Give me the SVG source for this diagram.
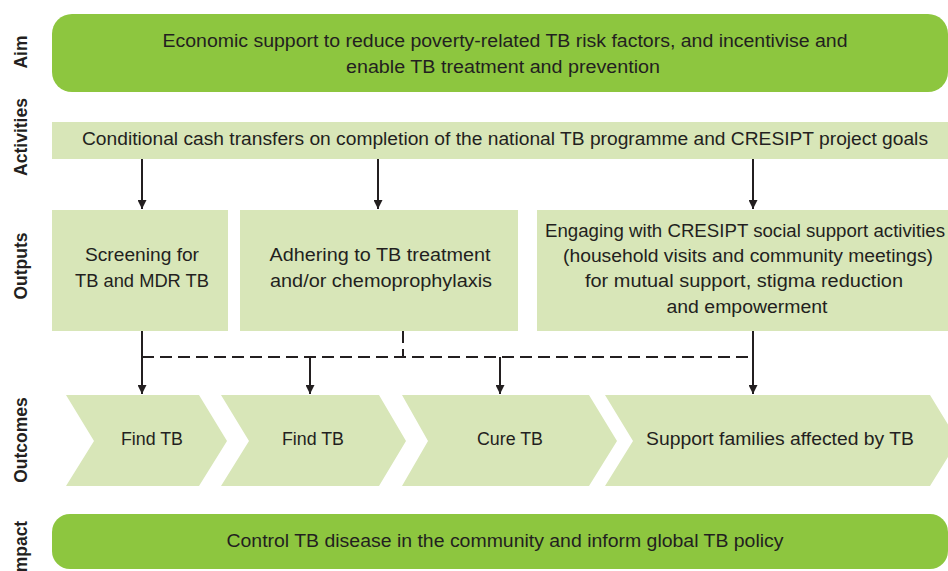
<svg xmlns="http://www.w3.org/2000/svg" width="948" height="571" viewBox="0 0 948 571">
  <style>
    .dark { fill: #8dc63f; }
    .light { fill: #d8e6b8; }
    .t { font-family: "Liberation Sans", Arial, sans-serif; font-size: 17.5px; fill: #231f20; text-anchor: middle; }
    .lbl { font-family: "Liberation Sans", Arial, sans-serif; font-size: 17.5px; font-weight: bold; fill: #231f20; text-anchor: middle; }
    .ln { stroke: #231f20; stroke-width: 2; fill: none; }
    .dash { stroke: #231f20; stroke-width: 2; fill: none; stroke-dasharray: 12 6; }
  </style>
  <defs>
    <marker id="arr" viewBox="0 0 10 10" refX="10" refY="5" markerWidth="4.5" markerHeight="4.5" orient="auto" markerUnits="strokeWidth">
      <path d="M0,0 L10,5 L0,10 Z" fill="#231f20"/>
    </marker>
  </defs>

  <g id="row-labels">
    <text class="lbl" transform="translate(27,52) rotate(-90)">Aim</text>
    <text class="lbl" transform="translate(27,137) rotate(-90)">Activities</text>
    <text class="lbl" transform="translate(27,266) rotate(-90)">Outputs</text>
    <text class="lbl" transform="translate(27,440) rotate(-90)">Outcomes</text>
    <text class="lbl" transform="translate(27,549) rotate(-90)">Impact</text>
  </g>

  <g id="aim">
    <rect class="dark" x="52" y="14" width="896" height="78" rx="20" ry="20"/>
    <text class="t" x="505" y="47" textLength="685" lengthAdjust="spacingAndGlyphs">Economic support to reduce poverty-related TB risk factors, and incentivise and</text>
    <text class="t" x="503" y="73" textLength="314" lengthAdjust="spacingAndGlyphs">enable TB treatment and prevention</text>
  </g>

  <g id="activities">
    <rect class="light" x="52" y="122" width="896" height="37"/>
    <text class="t" x="505" y="145" textLength="846" lengthAdjust="spacingAndGlyphs">Conditional cash transfers on completion of the national TB programme and CRESIPT project goals</text>
  </g>

  <g id="output-screening">
    <rect class="light" x="52" y="210" width="176" height="121"/>
    <text class="t" x="142" y="261" textLength="114" lengthAdjust="spacingAndGlyphs">Screening for</text>
    <text class="t" x="142" y="287" textLength="134" lengthAdjust="spacingAndGlyphs">TB and MDR TB</text>
  </g>

  <g id="output-adhering">
    <rect class="light" x="240" y="210" width="278" height="121"/>
    <text class="t" x="380" y="261" textLength="221" lengthAdjust="spacingAndGlyphs">Adhering to TB treatment</text>
    <text class="t" x="381" y="287" textLength="222" lengthAdjust="spacingAndGlyphs">and/or chemoprophylaxis</text>
  </g>

  <g id="output-engaging">
    <rect class="light" x="537" y="210" width="411" height="121"/>
    <text class="t" x="745" y="237" textLength="400" lengthAdjust="spacingAndGlyphs">Engaging with CRESIPT social support activities</text>
    <text class="t" x="748" y="262" textLength="370" lengthAdjust="spacingAndGlyphs">(household visits and community meetings)</text>
    <text class="t" x="744" y="287" textLength="318" lengthAdjust="spacingAndGlyphs">for mutual support, stigma reduction</text>
    <text class="t" x="747" y="313" textLength="161" lengthAdjust="spacingAndGlyphs">and empowerment</text>
  </g>

  <g id="outcome-find1">
    <polygon class="light" points="66,395 199,395 227,441 199,486 66,486 94,441"/>
    <text class="t" x="152" y="445" textLength="62" lengthAdjust="spacingAndGlyphs">Find TB</text>
  </g>
  <g id="outcome-find2">
    <polygon class="light" points="221,395 379,395 406,441 379,486 221,486 249,441"/>
    <text class="t" x="313" y="445" textLength="62" lengthAdjust="spacingAndGlyphs">Find TB</text>
  </g>
  <g id="outcome-cure">
    <polygon class="light" points="402,395 589,395 617,441 589,486 402,486 428,441"/>
    <text class="t" x="510" y="445" textLength="66" lengthAdjust="spacingAndGlyphs">Cure TB</text>
  </g>
  <g id="outcome-support">
    <polygon class="light" points="605,395 930,395 958,441 930,486 605,486 633,441"/>
    <text class="t" x="780" y="445" textLength="268" lengthAdjust="spacingAndGlyphs">Support families affected by TB</text>
  </g>

  <g id="impact">
    <rect class="dark" x="52" y="514" width="896" height="55" rx="18" ry="18"/>
    <text class="t" x="505" y="547" textLength="557" lengthAdjust="spacingAndGlyphs">Control TB disease in the community and inform global TB policy</text>
  </g>

  <g id="connectors">
    <line class="ln" x1="142" y1="159" x2="142" y2="209" marker-end="url(#arr)"/>
    <line class="ln" x1="378" y1="159" x2="378" y2="209" marker-end="url(#arr)"/>
    <line class="ln" x1="753" y1="159" x2="753" y2="209" marker-end="url(#arr)"/>
    <line class="ln" x1="142" y1="331" x2="142" y2="394" marker-end="url(#arr)"/>
    <line class="ln" x1="753" y1="331" x2="753" y2="394" marker-end="url(#arr)"/>
    <line class="dash" x1="142" y1="357" x2="753" y2="357"/>
    <line class="dash" x1="403" y1="331" x2="403" y2="357"/>
    <line class="ln" x1="310" y1="357" x2="310" y2="394" marker-end="url(#arr)"/>
    <line class="ln" x1="500" y1="357" x2="500" y2="394" marker-end="url(#arr)"/>
  </g>
</svg>
